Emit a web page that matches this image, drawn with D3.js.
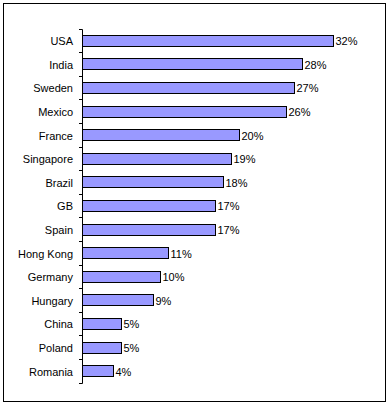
<!DOCTYPE html>
<html><head><meta charset="utf-8">
<script src="https://cdn.jsdelivr.net/npm/d3@7"></script>
<style>html,body{margin:0;padding:0;background:#fff;}svg{display:block;}</style>
</head><body><svg id="c" width="390" height="405"></svg>
<script>
const categories = ["USA","India","Sweden","Mexico","France","Singapore","Brazil","GB","Spain","Hong Kong","Germany","Hungary","China","Poland","Romania"];
const values = [0.32,0.28,0.27,0.26,0.20,0.19,0.18,0.17,0.17,0.11,0.10,0.09,0.05,0.05,0.04];
const labels = ["32%","28%","27%","26%","20%","19%","18%","17%","17%","11%","10%","9%","5%","5%","4%"];

const svg = d3.select("#c");
const font = "'Liberation Sans', Arial, sans-serif";

svg.append("rect").attr("x",3.5).attr("y",3.5).attr("width",382).attr("height",398)
  .attr("fill","#fff").attr("stroke","#000").attr("stroke-width",1);

const x = d3.scaleLinear().domain([0,0.35]).range([82,356.4]);
const yAxisScale = d3.scaleBand().domain(categories).range([28.5,382.5]).padding(0);
const y = d3.scaleBand().domain(categories).range([28.5,382.5]).paddingInner(0.53).paddingOuter(0.265);

const g = svg.append("g");
// axis line and ticks at band boundaries
g.append("line").attr("x1",x(0)+0.5).attr("x2",x(0)+0.5)
  .attr("y1",Math.round(yAxisScale.range()[0])+0.5).attr("y2",Math.round(yAxisScale.range()[1])+0.5)
  .attr("stroke","#000");
const tickPos = categories.map(c=>yAxisScale(c)).concat([yAxisScale.range()[1]]);
g.selectAll("line.tick").data(tickPos).join("line").attr("class","tick")
  .attr("x1",x(0)-3).attr("x2",x(0)+0.5)
  .attr("y1",d=>Math.round(d)+0.5).attr("y2",d=>Math.round(d)+0.5)
  .attr("stroke","#000");

const data = categories.map((c,i)=>({c, v:values[i], l:labels[i]}));
g.selectAll("rect.bar").data(data).join("rect").attr("class","bar")
  .attr("x",x(0)+0.5)
  .attr("y",d=>Math.round(y(d.c))+0.5)
  .attr("width",d=>Math.round(x(d.v)-x(0)))
  .attr("height",Math.round(y.bandwidth()))
  .attr("fill","#9999FF").attr("stroke","#000").attr("stroke-width",1);

g.selectAll("text.cat").data(data).join("text").attr("class","cat")
  .attr("x",73).attr("y",d=>y(d.c)+y.bandwidth()/2+1)
  .attr("dy","0.35em").attr("text-anchor","end")
  .attr("font-family",font).attr("font-size","11px").attr("fill","#000")
  .text(d=>d.c);

g.selectAll("text.val").data(data).join("text").attr("class","val")
  .attr("x",d=>Math.round(x(d.v))+2.5).attr("y",d=>y(d.c)+y.bandwidth()/2+1)
  .attr("dy","0.35em").attr("text-anchor","start")
  .attr("font-family",font).attr("font-size","11px").attr("fill","#000")
  .text(d=>d.l);
</script></body></html>
